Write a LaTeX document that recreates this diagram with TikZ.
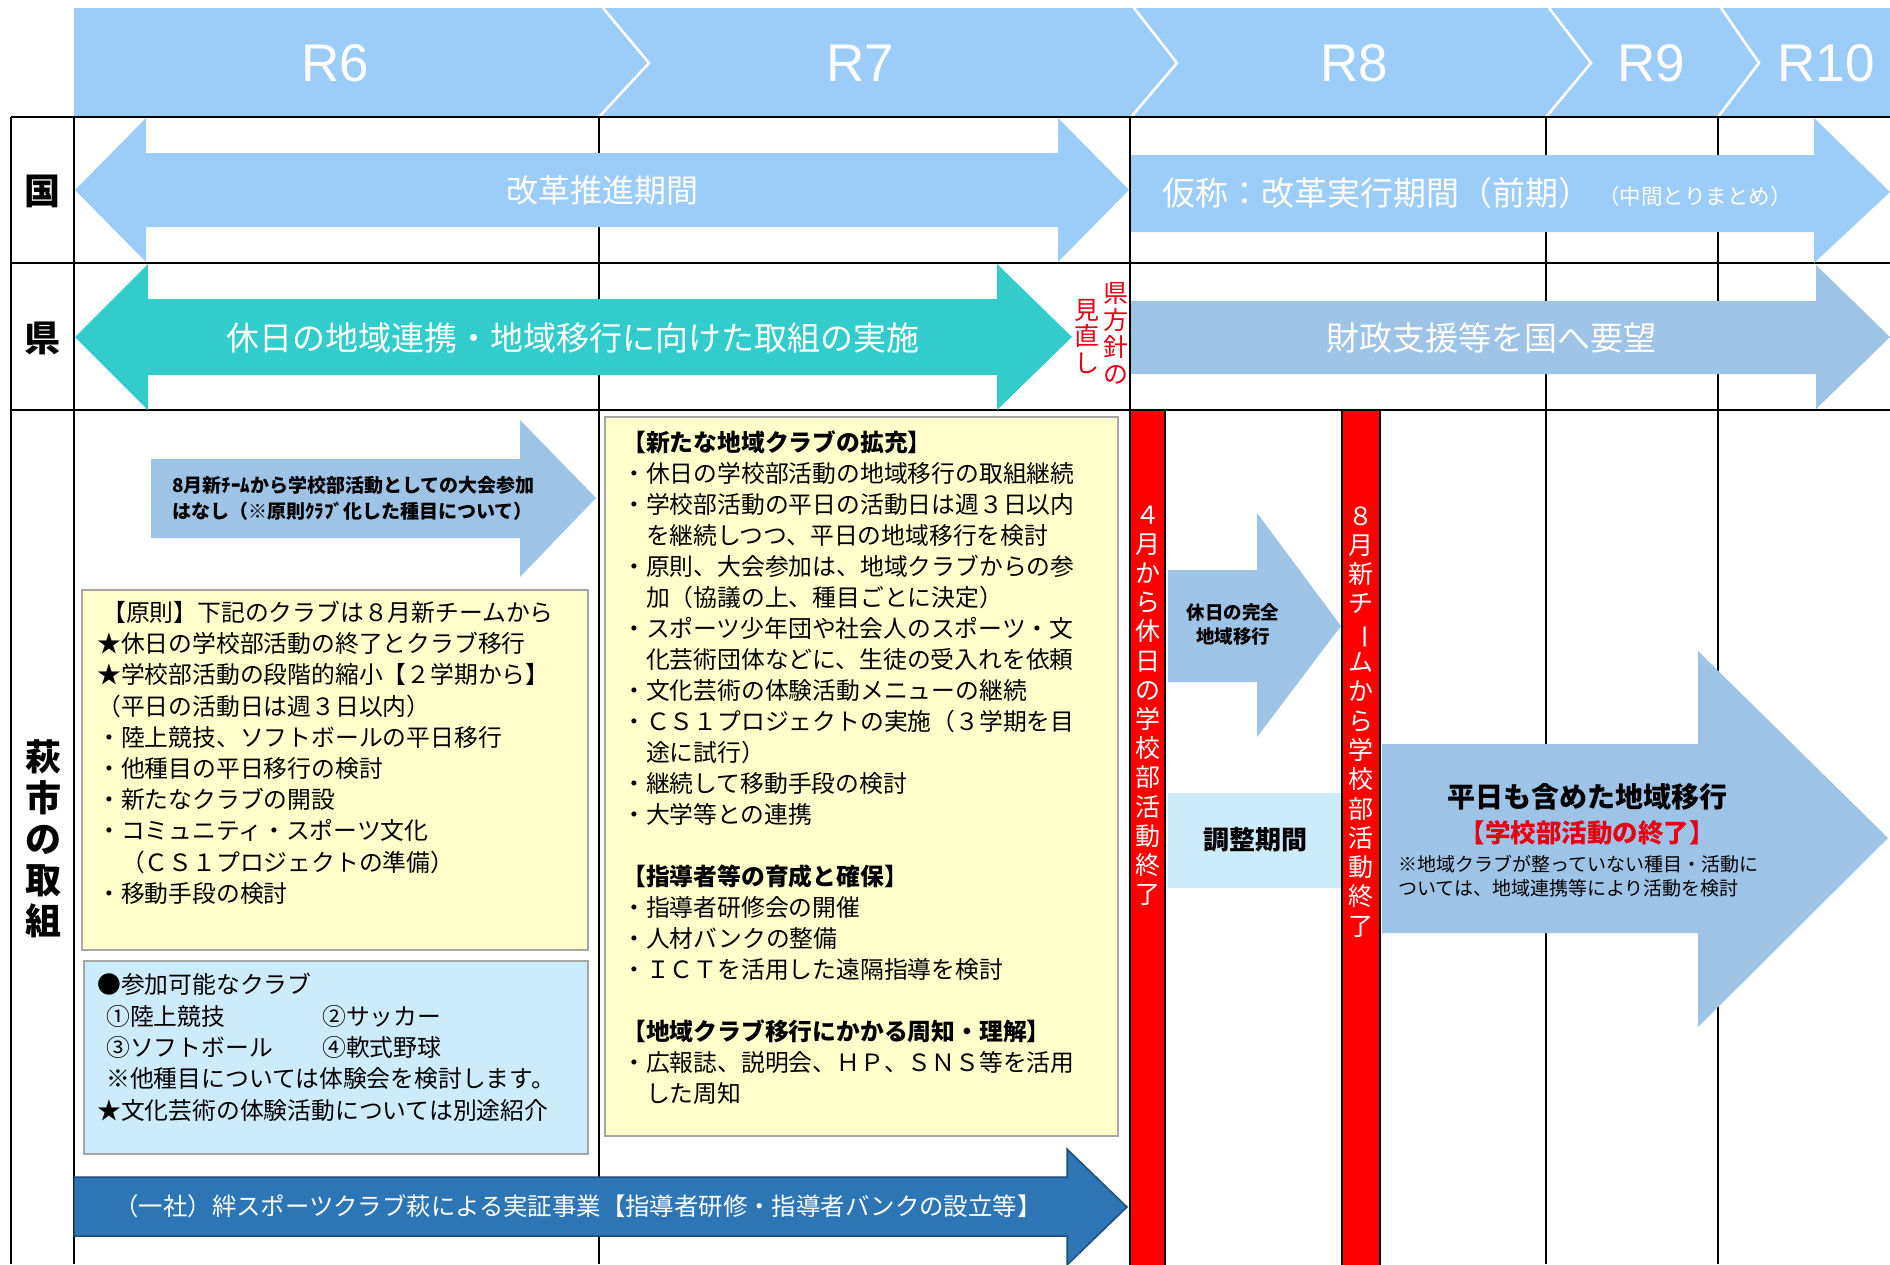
\documentclass[tikz,border=0pt]{standalone}
\usepackage{fontspec}
\setmainfont{Liberation Sans}
\newfontfamily\jp{Noto Sans CJK JP}
\newcommand\myfs[1]{\fontsize{#1}{#1}\selectfont}
\definecolor{hdrblue}{RGB}{155,205,248}
\definecolor{tealc}{RGB}{51,204,204}
\definecolor{steel}{RGB}{157,195,230}
\definecolor{paleblue}{RGB}{204,236,252}
\definecolor{paleyellow}{RGB}{255,255,204}
\definecolor{darkarrow}{RGB}{46,117,182}
\definecolor{darkedge}{RGB}{31,78,121}
\definecolor{redtext}{RGB}{230,0,18}
\begin{document}
\begin{tikzpicture}[x=1pt,y=-1pt,
  jf/.style={inner sep=0pt, font={\jp\myfs{#1}}, text height={0.86*#1pt}, text depth={0.14*#1pt}},
  gridline/.style={line width=2.4pt, black},
  chev/.style={white, line width=2.6pt},
  hdrtext/.style={inner sep=0pt, text=white, font=\myfs{53}},
  boxframe/.style={draw=black!35, line width=1.2pt},
  redbar/.style={fill=red, draw=black, line width=2pt}]
\useasboundingbox (0,0) rectangle (1890,1264);
\fill[white] (0,0) rectangle (1890,1264);

% ---------- header ----------
\fill[hdrblue] (74,8) rectangle (1890,117);
\draw[chev] (603,8) -- (649,63) -- (599,117);
\draw[chev] (1134,8) -- (1177,63) -- (1131,117);
\draw[chev] (1549,8) -- (1591,63) -- (1546,117);
\draw[chev] (1721,8) -- (1759,63) -- (1718,117);
\node[hdrtext] (r6) at (335,63) {R6};
\node[hdrtext] (r7) at (860,63) {R7};
\node[hdrtext] (r8) at (1354,63) {R8};
\node[hdrtext] (r9) at (1651,63) {R9};
\node[hdrtext] (r10) at (1826,63) {R10};

% ---------- grid ----------
\draw[gridline] (11,117) -- (1890,117);
\draw[gridline] (11,263) -- (1890,263);
\draw[gridline] (11,410) -- (1890,410);
\draw[gridline] (11,117) -- (11,1264);
\draw[gridline] (74,117) -- (74,1264);
\foreach \gx in {599,1130,1546,1718} \draw[gridline] (\gx,117) -- (\gx,1264);

\node[jf=36] (lkuni) at (42,192) {\bfseries 国};
\node[jf=36] (lken) at (42,339) {\bfseries 県};
\foreach \c [count=\i from 0] in {萩,市,の,取,組}
  \node[jf=36] (lhagi\i) at (43,758+41*\i) {\bfseries\c};

% ---------- 国 row ----------
\fill[hdrblue] (75,190) -- (146,118) -- (146,153) -- (1058,153) -- (1058,118) -- (1129,190)
  -- (1058,262) -- (1058,227) -- (146,227) -- (146,262) -- cycle;
\node[jf=32, text=white] (kaikaku) at (602,191) {改革推進期間};
\fill[hdrblue] (1131,155) -- (1814,155) -- (1814,118) -- (1890,192) -- (1814,263)
  -- (1814,232) -- (1131,232) -- cycle;
\node[jf=33, text=white, anchor=west] (jikko) at (1162,194) {仮称：改革実行期間（前期）};
\node[jf=21.5, text=white, anchor=west] (chukan) at (1598,197) {（中間とりまとめ）};

% ---------- 県 row ----------
\fill[tealc] (75,337) -- (148,264) -- (148,299) -- (997,299) -- (997,264) -- (1072,337)
  -- (997,410) -- (997,375) -- (148,375) -- (148,410) -- cycle;
\node[jf=33, text=white] (kyujitsu) at (573,339) {休日の地域連携・地域移行に向けた取組の実施};
\fill[steel] (1131,301) -- (1816,301) -- (1816,265) -- (1890,337) -- (1816,409)
  -- (1816,374) -- (1131,374) -- cycle;
\node[jf=33, text=white] (zaisei) at (1491,339) {財政支援等を国へ要望};
\foreach \c [count=\i from 0] in {県,方,針,の}
  \node[jf=25, text=redtext] (kenA\i) at (1116,293+27.3*\i) {\c};
\foreach \c [count=\i from 0] in {見,直,し}
  \node[jf=25, text=redtext] (kenB\i) at (1087,310+26.5*\i) {\c};

% ---------- 萩市 row ----------
\fill[steel] (151,459) -- (520,459) -- (520,420) -- (596,498) -- (520,577) -- (520,538)
  -- (151,538) -- cycle;
\node[jf=19, anchor=west] (taikai1) at (172,486) {\bfseries 8月新ﾁｰﾑから学校部活動としての大会参加};
\node[jf=19, anchor=west] (taikai2) at (172,512) {\bfseries はなし（※原則ｸﾗﾌﾞ化した種目について）};

\filldraw[boxframe, fill=paleyellow] (82,590) rectangle (588,950);
\foreach \t [count=\i from 0] in {
  {\hspace*{5pt}【原則】下記のクラブは８月新チームから},
  {★休日の学校部活動の終了とクラブ移行},
  {★学校部活動の段階的縮小【２学期から】},
  {（平日の活動日は週３日以内）},
  {・陸上競技、ソフトボールの平日移行},
  {・他種目の平日移行の検討},
  {・新たなクラブの開設},
  {・コミュニティ・スポーツ文化},
  {　（ＣＳ１プロジェクトの準備）},
  {・移動手段の検討}}
  \node[jf=23.8, anchor=west] (ba\i) at (97,613+31.2*\i) {\t};

\filldraw[boxframe, fill=paleblue] (84,961) rectangle (588,1154);
\node[jf=23.8, anchor=west] (bb0) at (97,985) {●参加可能なクラブ};
\node[jf=23.8, anchor=west] (bb1) at (106,1017) {①陸上競技};
\node[jf=23.8, anchor=west] (bb2) at (322,1017) {②サッカー};
\node[jf=23.8, anchor=west] (bb3) at (106,1048) {③ソフトボール};
\node[jf=23.8, anchor=west] (bb4) at (322,1048) {④軟式野球};
\node[jf=23.8, anchor=west] (bb5) at (106,1079) {※他種目については体験会を検討します。};
\node[jf=23.8, anchor=west] (bb6) at (97,1111) {★文化芸術の体験活動については別途紹介};

\filldraw[boxframe, fill=paleyellow] (605,417) rectangle (1118,1136);
\foreach \i/\t in {
  0/{\bfseries 【新たな地域クラブの拡充】},
  1/{・休日の学校部活動の地域移行の取組継続},
  2/{・学校部活動の平日の活動日は週３日以内},
  3/{　を継続しつつ、平日の地域移行を検討},
  4/{・原則、大会参加は、地域クラブからの参},
  5/{　加（協議の上、種目ごとに決定）},
  6/{・スポーツ少年団や社会人のスポーツ・文},
  7/{　化芸術団体などに、生徒の受入れを依頼},
  8/{・文化芸術の体験活動メニューの継続},
  9/{・ＣＳ１プロジェクトの実施（３学期を目},
  10/{　途に試行）},
  11/{・継続して移動手段の検討},
  12/{・大学等との連携},
  14/{\bfseries 【指導者等の育成と確保】},
  15/{・指導者研修会の開催},
  16/{・人材バンクの整備},
  17/{・ＩＣＴを活用した遠隔指導を検討},
  19/{\bfseries 【地域クラブ移行にかかる周知・理解】},
  20/{・広報誌、説明会、ＨＰ、ＳＮＳ等を活用},
  21/{　した周知}}
  \node[jf=23.8, anchor=west] (bc\i) at (622,443+31.0*\i) {\t};

% bottom dark arrow
\filldraw[fill=darkarrow, draw=darkedge, line width=1.5pt] (74,1177) -- (1067,1177) -- (1067,1149)
  -- (1127,1207) -- (1067,1265) -- (1067,1236) -- (74,1236) -- cycle;
\node[jf=24.4, text=white] (kizuna) at (578,1207) {（一社）絆スポーツクラブ萩による実証事業【指導者研修・指導者バンクの設立等】};

% red bars
\filldraw[redbar] (1130,410) rectangle (1165,1266);
\filldraw[redbar] (1342,410) rectangle (1380,1266);
\foreach \c [count=\i from 0] in {４,月,か,ら,休,日,の,学,校,部,活,動,終,了}
  \node[jf=25, text=white] (ra\i) at (1147.5,515+29.2*\i) {\c};
\foreach \c [count=\i from 0] in {８,月,新,チ,{\rotatebox[origin=c]{-90}{ー}},ム,か,ら,学,校,部,活,動,終,了}
  \node[jf=25, text=white] (rb\i) at (1361,516+29.3*\i) {\c};

% 休日の完全地域移行 arrow
\fill[steel] (1168,570) -- (1257,570) -- (1257,513) -- (1341,626) -- (1257,737) -- (1257,682)
  -- (1168,682) -- cycle;
\node[jf=18.5] (kanzen1) at (1233,613) {\bfseries 休日の完全};
\node[jf=18.5] (kanzen2) at (1233,637) {\bfseries 地域移行};

% 調整期間
\fill[paleblue] (1168,793) rectangle (1341,888);
\node[jf=26] (chosei) at (1255,840) {\bfseries 調整期間};

% big arrow
\fill[steel] (1382,744) -- (1698,744) -- (1698,651) -- (1888,838) -- (1698,1027) -- (1698,933)
  -- (1382,933) -- cycle;
\node[jf=28] (heijitsu) at (1587,797) {\bfseries 平日も含めた地域移行};
\node[jf=25.5, text=redtext] (shuryo) at (1587,833) {\bfseries 【学校部活動の終了】};
\node[jf=19, anchor=west] (note1) at (1398,865) {※地域クラブが整っていない種目・活動に};
\node[jf=19, anchor=west] (note2) at (1398,889) {ついては、地域連携等により活動を検討};
\end{tikzpicture}
\end{document}
